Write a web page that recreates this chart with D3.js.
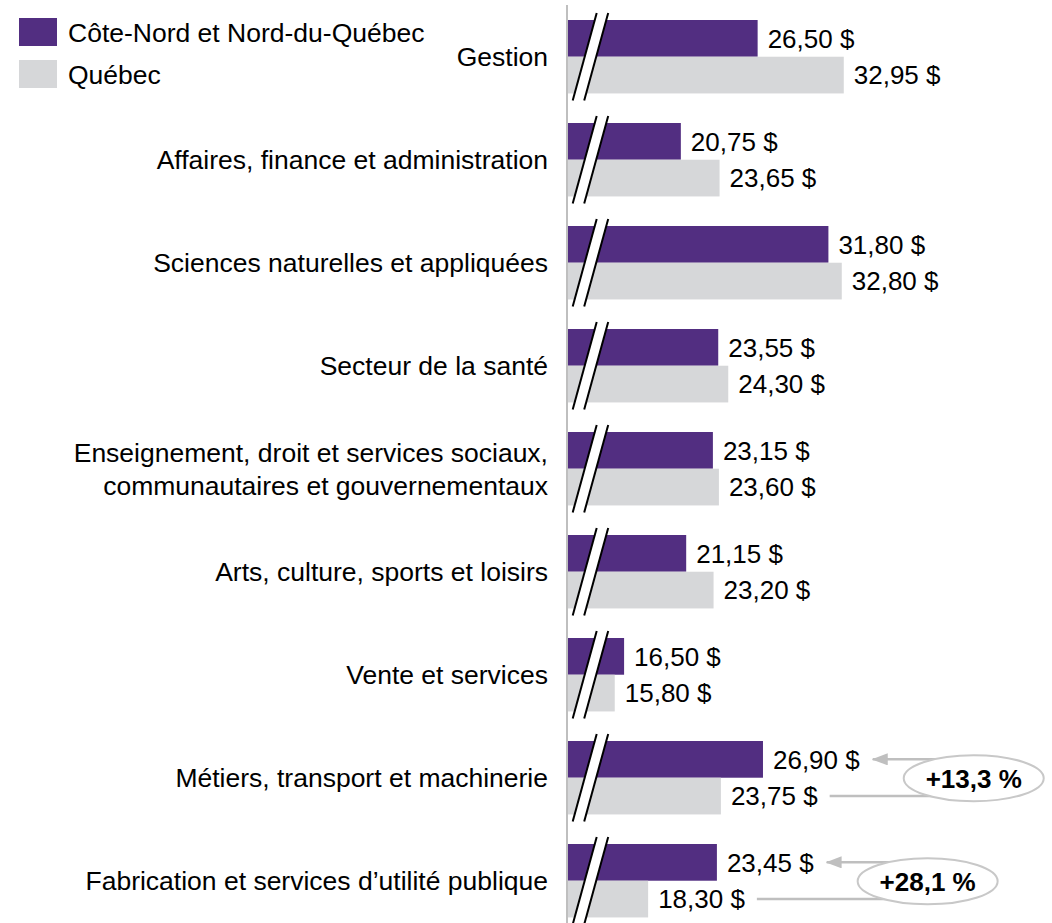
<!DOCTYPE html>
<html lang="fr">
<head>
<meta charset="utf-8">
<script src="https://cdn.jsdelivr.net/npm/d3@7"></script>
<style>
  html, body { margin: 0; padding: 0; background: #ffffff; }
  svg { display: block; font-family: "Liberation Sans", Arial, sans-serif; }
</style>
</head>
<body>
<svg id="chart" width="1052" height="923"></svg>
<script>
// Salaire horaire médian par catégorie professionnelle
const categories = [
  "Gestion",
  "Affaires, finance et administration",
  "Sciences naturelles et appliquées",
  "Secteur de la santé",
  "Enseignement, droit et services sociaux, communautaires et gouvernementaux",
  "Arts, culture, sports et loisirs",
  "Vente et services",
  "Métiers, transport et machinerie",
  "Fabrication et services d’utilité publique"
];
// Étiquettes affichées (| = saut de ligne)
const categoryLabels = [
  "Gestion",
  "Affaires, finance et administration",
  "Sciences naturelles et appliquées",
  "Secteur de la santé",
  "Enseignement, droit et services sociaux,|communautaires et gouvernementaux",
  "Arts, culture, sports et loisirs",
  "Vente et services",
  "Métiers, transport et machinerie",
  "Fabrication et services d’utilité publique"
];
const seriesNames = ["Côte-Nord et Nord-du-Québec", "Québec"];
const regionValues = [26.50, 20.75, 31.80, 23.55, 23.15, 21.15, 16.50, 26.90, 23.45];
const quebecValues = [32.95, 23.65, 32.80, 24.30, 23.60, 23.20, 15.80, 23.75, 18.30];
// Catégories où l'écart avec le Québec est mis en évidence
const highlighted = ["Métiers, transport et machinerie", "Fabrication et services d’utilité publique"];
// Axe horizontal tronqué
const xDomain = [12.3, 36];

const colors = ["#522e81", "#d6d7d9"];
const fontSize = 26;
const labelFontSize = 26.5;

const svg = d3.select("#chart");

const fr = d3.formatLocale({ decimal: ",", thousands: " ", grouping: [3], currency: ["", " $"] });
const fmtMoney = fr.format("$.2f");
const fmtPct = v => fr.format("+.1f")(v) + " %";

const axisX = 567;
const x = d3.scaleLinear().domain(xDomain).range([568, 884.5]);

const y = d3.scaleBand()
  .domain(categories)
  .range([20, 20 + 103 * (9 - 0.287)])
  .paddingInner(0.287)
  .paddingOuter(0);

const ySub = d3.scaleBand().domain(seriesNames).range([0, y.bandwidth()]);

const rows = categories.map((c, i) => ({
  cat: c,
  label: categoryLabels[i],
  values: [regionValues[i], quebecValues[i]]
}));

// Barres
const g = svg.append("g");
const groups = g.selectAll("g.cat").data(rows).join("g")
  .attr("class", "cat")
  .attr("transform", d => `translate(0,${y(d.cat)})`);

groups.selectAll("rect").data(d => d.values.map((v, k) => ({ v, k }))).join("rect")
  .attr("x", x(xDomain[0]))
  .attr("y", d => ySub(seriesNames[d.k]))
  .attr("width", d => x(d.v) - x(xDomain[0]))
  .attr("height", ySub.bandwidth())
  .attr("fill", d => colors[d.k]);

// Étiquettes de valeurs
groups.selectAll("text.val").data(d => d.values.map((v, k) => ({ v, k }))).join("text")
  .attr("class", "val")
  .attr("x", d => x(d.v) + 10)
  .attr("y", d => ySub(seriesNames[d.k]) + ySub.bandwidth() / 2)
  .attr("dy", "0.36em")
  .attr("font-size", fontSize)
  .attr("fill", "#000")
  .text(d => fmtMoney(d.v));

// Marques de rupture de l'axe
const bw = y.bandwidth();
groups.each(function () {
  const sel = d3.select(this);
  const yb = bw + 7, yt = -7;
  const p = [[572.7, yb], [596.7, yt], [608.2, yt], [584.2, yb]];
  sel.append("polygon").attr("points", p.map(q => q.join(",")).join(" ")).attr("fill", "#fff");
  sel.append("line").attr("x1", p[0][0]).attr("y1", p[0][1]).attr("x2", p[1][0]).attr("y2", p[1][1])
    .attr("stroke", "#000").attr("stroke-width", 2);
  sel.append("line").attr("x1", p[3][0]).attr("y1", p[3][1]).attr("x2", p[2][0]).attr("y2", p[2][1])
    .attr("stroke", "#000").attr("stroke-width", 2);
});

// Axe vertical
svg.append("line")
  .attr("x1", axisX).attr("x2", axisX)
  .attr("y1", 5).attr("y2", 923)
  .attr("stroke", "#bfbfbf").attr("stroke-width", 2);

// Libellés des catégories
groups.append("text")
  .attr("text-anchor", "end")
  .attr("font-size", labelFontSize)
  .attr("fill", "#000")
  .each(function (d) {
    const lines = d.label.split("|");
    const lh = 33.3;
    const t = d3.select(this);
    lines.forEach((ln, j) => {
      t.append("tspan")
        .attr("x", 548)
        .attr("y", bw / 2 + 9.5 + (j - (lines.length - 1) / 2) * lh)
        .text(ln);
    });
  });

// Légende
const legend = svg.append("g");
seriesNames.forEach((name, k) => {
  legend.append("rect")
    .attr("x", 19).attr("y", 18 + k * 42)
    .attr("width", 38).attr("height", 28)
    .attr("fill", colors[k]);
  legend.append("text")
    .attr("x", 68).attr("y", 32 + k * 42)
    .attr("dy", "0.36em")
    .attr("font-size", labelFontSize)
    .attr("fill", "#000")
    .text(name);
});

// Flèches et écarts en pourcentage
const defs = svg.append("defs");
defs.append("marker")
  .attr("id", "arrow")
  .attr("viewBox", "0 0 16 12")
  .attr("refX", 15).attr("refY", 6)
  .attr("markerWidth", 16).attr("markerHeight", 12)
  .attr("markerUnits", "userSpaceOnUse")
  .attr("orient", "auto")
  .append("path").attr("d", "M0,0 L16,6 L0,12 Z").attr("fill", "#bfbfbf");

const ann = svg.append("g");
groups.filter(d => highlighted.includes(d.cat)).each(function (d) {
  const labels = d3.select(this).selectAll("text.val").nodes();
  const top = y(d.cat);
  const endReg = x(d.values[0]) + 10 + labels[0].getComputedTextLength();
  const endQc = x(d.values[1]) + 10 + labels[1].getComputedTextLength();
  const yReg = top + ySub(seriesNames[0]) + ySub.bandwidth() / 2;
  const yQc = top + ySub(seriesNames[1]) + ySub.bandwidth() / 2;
  const tip = endReg + 13;
  const cx = tip + 101;
  const cy = (yReg + yQc) / 2 + 0.5;
  ann.append("path")
    .attr("d", `M${endQc + 12},${yQc} H${cx} V${yReg} H${tip}`)
    .attr("fill", "none")
    .attr("stroke", "#bfbfbf").attr("stroke-width", 2.5)
    .attr("marker-end", "url(#arrow)");
  ann.append("ellipse")
    .attr("cx", cx).attr("cy", cy)
    .attr("rx", 70).attr("ry", 23)
    .attr("fill", "#fff")
    .attr("stroke", "#c8c8c8").attr("stroke-width", 2);
  ann.append("text")
    .attr("x", cx).attr("y", cy)
    .attr("dy", "0.36em")
    .attr("text-anchor", "middle")
    .attr("font-size", fontSize)
    .attr("font-weight", "bold")
    .attr("fill", "#000")
    .text(fmtPct((d.values[0] / d.values[1] - 1) * 100));
});
</script>
</body>
</html>
